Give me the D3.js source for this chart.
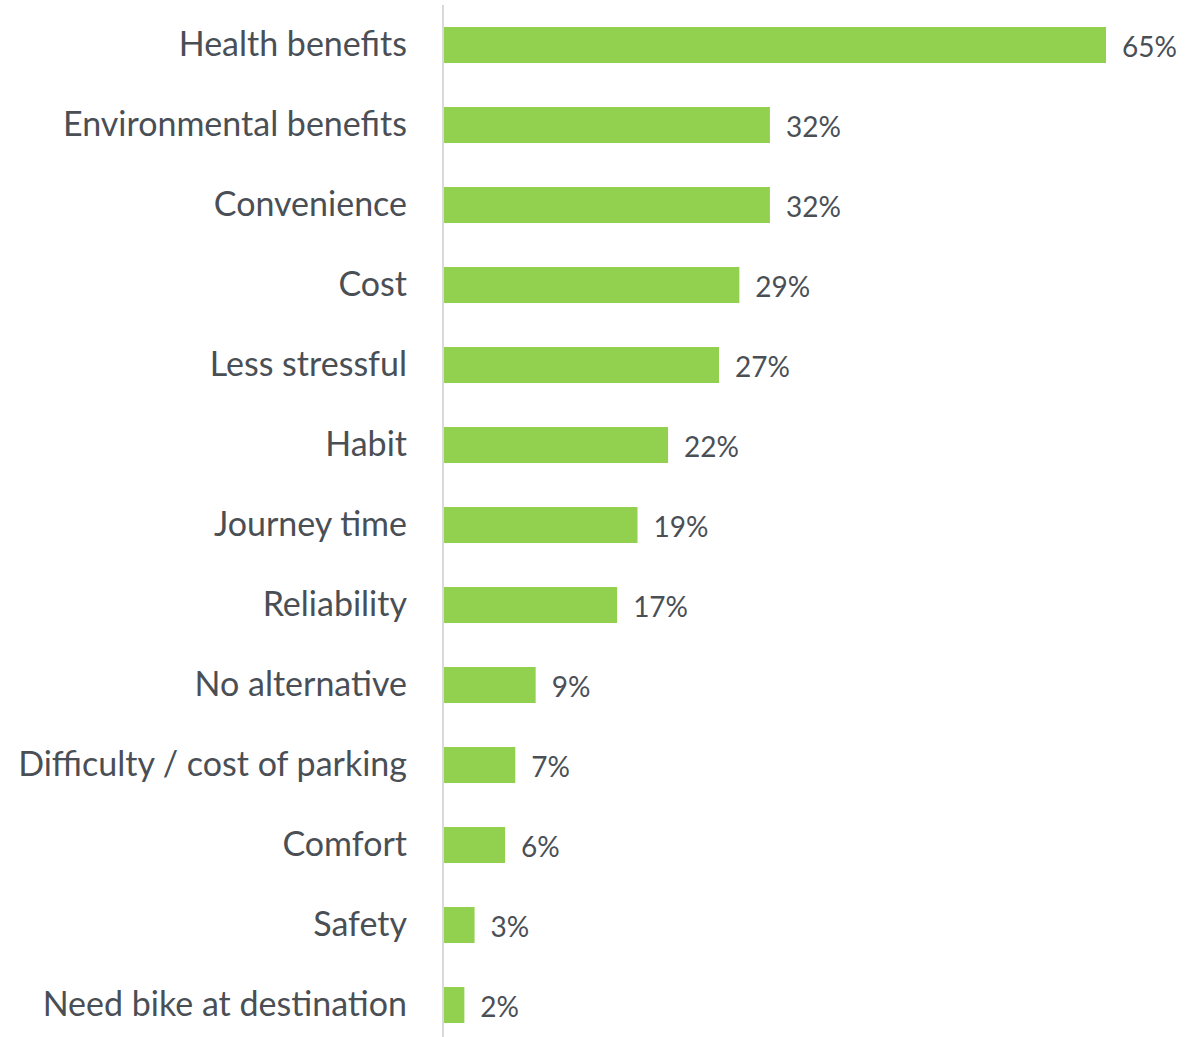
<!DOCTYPE html>
<html>
<head>
<meta charset="utf-8">
<script src="https://cdn.jsdelivr.net/npm/d3@7"></script>
<style>
  body { margin: 0; background: #fff; }
  svg text { font-family: Lato, "Open Sans", sans-serif; fill: #4a4f56; }
</style>
</head>
<body>
<svg id="chart"></svg>
<script>
const categories = [
  'Health benefits', 'Environmental benefits', 'Convenience', 'Cost',
  'Less stressful', 'Habit', 'Journey time', 'Reliability', 'No alternative',
  'Difficulty / cost of parking', 'Comfort', 'Safety', 'Need bike at destination'
];
const values = [65, 32, 32, 29, 27, 22, 19, 17, 9, 7, 6, 3, 2];

const width = 1193, height = 1037;
const svg = d3.select('#chart').attr('width', width).attr('height', height);

const x = d3.scaleLinear().domain([0, 65]).range([444, 1106]);
const y = d3.scaleBand().domain(categories).range([5, 1045]).paddingInner(0.55).paddingOuter(0.275);

// bars
svg.append('g')
  .selectAll('rect')
  .data(values)
  .enter().append('rect')
  .attr('x', x(0))
  .attr('y', (d, i) => y(categories[i]))
  .attr('width', d => x(d) - x(0))
  .attr('height', y.bandwidth())
  .attr('fill', '#92d050');

// value labels
svg.append('g')
  .selectAll('text')
  .data(values)
  .enter().append('text')
  .attr('x', d => x(d) + 16)
  .attr('y', (d, i) => y(categories[i]) + y.bandwidth() / 2 + 1)
  .attr('dominant-baseline', 'central')
  .attr('font-size', 28)
  .text(d => d + '%');

// category axis
const axis = svg.append('g')
  .attr('transform', 'translate(443,0)')
  .call(d3.axisLeft(y).tickSize(0).tickPadding(36));
axis.select('.domain').attr('stroke', '#d9d9d9').attr('stroke-width', 2).attr('d', 'M0,5V1037');
axis.selectAll('text').attr('font-size', 34).attr('fill', '#4a4f56').style('font-family', 'Lato, sans-serif');
</script>
</body>
</html>
